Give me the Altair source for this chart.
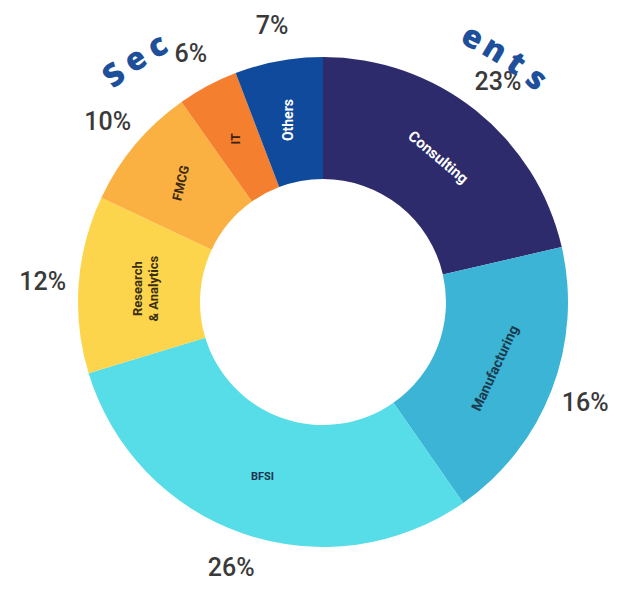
import altair as alt
import pandas as pd
import math

# ---- data ----
sectors = ["Consulting", "Manufacturing", "BFSI", "Research & Analytics", "FMCG", "IT", "Others"]
arc_share = [21.4, 18.9, 30.0, 11.7, 8.2, 4.0, 5.8]          # arc sizes as drawn in the picture
pct_labels = ["23%", "16%", "26%", "12%", "10%", "6%", "7%"]   # printed percentages
inner_labels = ["Consulting", "Manufacturing", "BFSI", "Research|& Analytics", "FMCG", "IT", "Others"]

title_chars = ["S", "e", "c", "e", "n", "t", "s"]
title_char_angle = [-38.4, -33.9, -29.5, 26.4, 30.7, 35.0, 39.4]

# ---- styles ----
colors = ["#2d2b6c", "#3bb4d6", "#56dde8", "#fdd54d", "#fbb142", "#f47f2e", "#0f4a9c"]
label_colors = {"Consulting": "#ffffff", "Manufacturing": "#1b3b4d", "BFSI": "#1d3350",
                "Research & Analytics": "#3a2e10", "FMCG": "#3a2a10", "IT": "#3a2010",
                "Others": "#ffffff"}
label_rot = {"Consulting": 40, "Manufacturing": 295, "BFSI": 0, "Research & Analytics": 270,
             "FMCG": 283, "IT": 270, "Others": 270}
label_size = {"Consulting": 15, "Manufacturing": 14, "BFSI": 11, "Research & Analytics": 13,
              "FMCG": 13, "IT": 12, "Others": 14}

df = pd.DataFrame({
    "sector": sectors,
    "share": arc_share,
    "pct": pct_labels,
    "inner": inner_labels,
    "idx": list(range(len(sectors))),
})
df["lcol"] = df["sector"].map(label_colors)
df["rot"] = df["sector"].map(label_rot)
df["fs"] = df["sector"].map(label_size)

CX, CY = 315, 294

base = alt.Chart(df).encode(
    theta=alt.Theta("share:Q", stack=True),
    order=alt.Order("idx:Q"),
    x=alt.value(CX),
    y=alt.value(CY),
)

arcs = base.mark_arc(outerRadius=245, innerRadius=123, strokeWidth=0).encode(
    color=alt.Color("sector:N", scale=alt.Scale(domain=sectors, range=colors), legend=None)
)

pct_text = base.mark_text(radius=281, font="Roboto", fontSize=25, fontWeight=500,
                          color="#3a3a3a", align="center", baseline="middle").encode(
    text="pct:N"
)

inner_text = base.mark_text(radius=185, font="Roboto", fontWeight="bold", lineBreak="|",
                            align="center", baseline="middle", lineHeight=16).encode(
    text="inner:N",
    color=alt.Color("lcol:N", scale=None),
    angle=alt.Angle("rot:Q", scale=None),
    size=alt.Size("fs:Q", scale=None),
)

tdf = pd.DataFrame({"ch": title_chars, "ang": title_char_angle})
tdf["rot"] = tdf["ang"] % 360

title_text = alt.Chart(tdf).mark_text(radius=336, font="Open Sans", fontSize=32, fontWeight=800,
                                      color="#1d4f9a", align="center", baseline="middle").encode(
    theta=alt.Theta("ang:Q", stack=False, scale=alt.Scale(domain=[-180, 180], range=[-math.pi, math.pi])),
    x=alt.value(CX),
    y=alt.value(CY + 37),
    text="ch:N",
    angle=alt.Angle("rot:Q", scale=None),
)

chart = alt.layer(arcs, pct_text, inner_text, title_text).resolve_scale(
    theta="independent"
).properties(
    width=605, height=574, autosize=alt.AutoSizeParams(type="none"), padding=0,
    background="#ffffff"
).configure_view(strokeWidth=0, stroke="transparent")

chart.save("out.html", embed_options={"renderer": "svg", "actions": False})
